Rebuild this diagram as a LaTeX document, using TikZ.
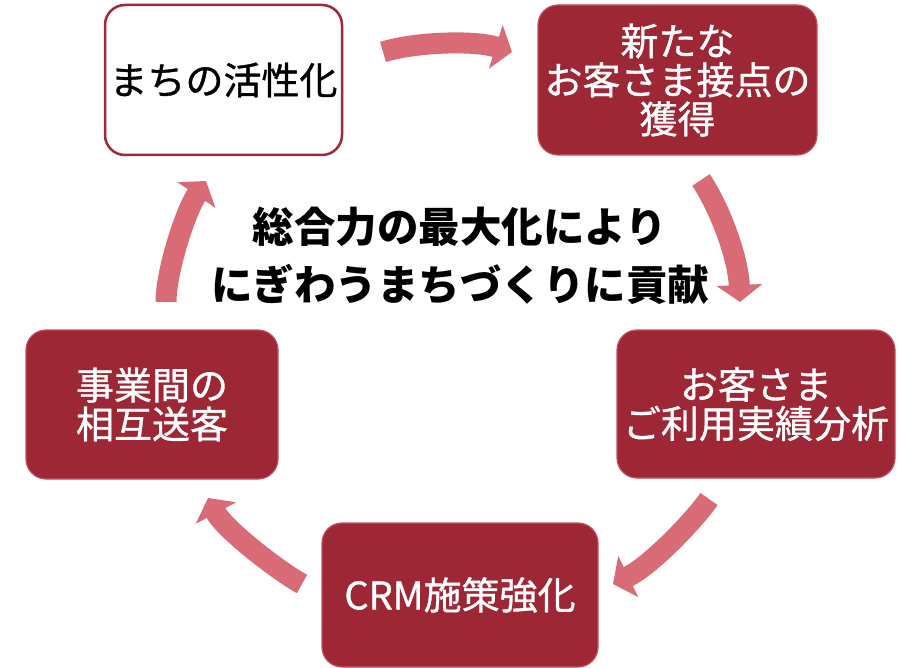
\documentclass[tikz,border=0pt]{standalone}
\usepackage{fontspec}
\setmainfont{Noto Sans CJK JP}
\newfontfamily\medfont[FakeBold=0.9]{Noto Sans CJK JP}
\usetikzlibrary{arrows.meta}
\definecolor{boxred}{HTML}{9E2735}
\definecolor{boxedge}{HTML}{C4505C}
\definecolor{framered}{HTML}{A02838}
\definecolor{arrowpink}{HTML}{D96B76}
\tikzset{
  redbox/.style={rectangle, rounded corners=20pt, fill=boxred, draw=boxedge, line width=1.2pt,
    text=white, align=center, inner sep=0pt, font=\medfont\fontsize{38}{39}\selectfont},
  whitebox/.style={rectangle, rounded corners=20pt, fill=white, draw=framered, line width=2.5pt,
    text=black, align=center, inner sep=0pt, font=\medfont\fontsize{38}{39}\selectfont},
  cyclearrow/.style={draw=arrowpink, line width=21pt, -{Triangle[width=45pt,length=17pt]}},
  centertext/.style={align=center, text=black, font=\fontsize{41.5}{58}\selectfont\bfseries}
}
\begin{document}
\begin{tikzpicture}[x=1pt,y=-1pt]
\useasboundingbox (0,0) rectangle (899,668);
% boxes
\node[whitebox, minimum width=237pt, minimum height=150pt] (town) at (223.5,80) {まちの活性化};
\node[redbox, minimum width=279pt, minimum height=150pt] (contact) at (677.5,80) {新たな\\お客さま接点の\\獲得};
\node[redbox, minimum width=278pt, minimum height=148pt] (usage) at (756,404) {お客さま\\ご利用実績分析};
\node[redbox, minimum width=276pt, minimum height=144pt] (crm) at (460,595) {CRM施策強化};
\node[redbox, minimum width=252pt, minimum height=149pt] (mutual) at (152,404.5) {事業間の\\相互送客};
% center text
\node[centertext] (center) at (460,256) {総合力の最大化により\\にぎわうまちづくりに貢献};
% arrow end points
\coordinate (a1s) at (383,52);  \coordinate (a1e) at (512,52);
\coordinate (a2s) at (701,180); \coordinate (a2e) at (740,302);
\coordinate (a3s) at (709,499); \coordinate (a3e) at (613,584);
\coordinate (a4s) at (302,584); \coordinate (a4e) at (208,498);
\coordinate (a5s) at (166,302); \coordinate (a5e) at (206,181);
% arrows
\draw[cyclearrow] (a1s) .. controls (415,42) and (474,40) .. (a1e);
\draw[cyclearrow] (a2s) .. controls (718,205) and (738,255) .. (a2e);
\draw[cyclearrow] (a3s) .. controls (697,517) and (652,565) .. (a3e);
\draw[cyclearrow] (a4s) .. controls (280,572) and (225,530) .. (a4e);
\draw[cyclearrow] (a5s) .. controls (166,272) and (185,212) .. (a5e);
\end{tikzpicture}
\end{document}
